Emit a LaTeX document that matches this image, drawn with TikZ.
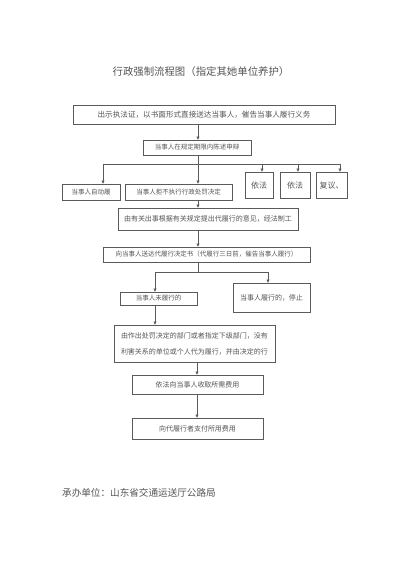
\documentclass[tikz,border=0pt]{standalone}
\usepackage{fontspec}
\newfontfamily\cjk{Noto Sans CJK SC}
\usetikzlibrary{arrows.meta}
\definecolor{ln}{HTML}{5A5A5A}
\definecolor{tx}{HTML}{555555}
\tikzset{
  box/.style={draw=ln, line width=0.55pt, inner sep=0pt, font=\cjk\fontsize{7}{9}\selectfont, text=tx, align=center},
  small/.style={font=\cjk\fontsize{6.5}{8}\selectfont},
  conn/.style={draw=ln, line width=0.55pt},
  arr/.style={conn, -{Triangle[length=3.2pt,width=3pt]}},
}
\begin{document}
\begin{tikzpicture}[x=1pt,y=-1pt]
\useasboundingbox (0,0) rectangle (400,566);
\fill[white] (0,0) rectangle (400,566);
% title
\node[font=\cjk\fontsize{10.4}{12}\selectfont, text=tx] (title) at (201,72) {行政强制流程图（指定其她单位养护）};
% boxes
\node[box, minimum width=262pt, minimum height=19pt, font=\cjk\fontsize{7.6}{9}\selectfont] (b1) at (204,114.5) {出示执法证，以书面形式直接送达当事人，催告当事人履行义务};
\node[box, small, minimum width=108pt, minimum height=15pt] (b2) at (197,147.5) {当事人在规定期限内陈述申辩};
\node[box, small, minimum width=58pt, minimum height=16pt] (bl) at (91,192) {当事人自动履};
\node[box, small, minimum width=107pt, minimum height=16pt] (bm) at (178.5,192) {当事人拒不执行行政处罚决定};
\node[box, minimum width=28pt, minimum height=26pt, font=\cjk\fontsize{8}{9}\selectfont] (y1) at (259,185) {依法};
\node[box, minimum width=30pt, minimum height=26pt, font=\cjk\fontsize{8}{9}\selectfont] (y2) at (295,185) {依法};
\node[box, minimum width=31pt, minimum height=26pt, font=\cjk\fontsize{8}{9}\selectfont] (fy) at (331.5,185) {复议、};
\node[box, minimum width=180pt, minimum height=22pt] (b4) at (208,219) {由有关出事根据有关规定提出代履行的意见，经法制工};
\node[box, small, minimum width=207pt, minimum height=15pt] (b5) at (206.5,254.5) {向当事人送达代履行决定书（代履行三日前，催告当事人履行）};
\node[box, small, minimum width=77pt, minimum height=13pt] (b6l) at (158.5,298.5) {当事人未履行的};
\node[box, minimum width=77pt, minimum height=29pt] (b6r) at (271.5,297.5) {当事人履行的，停止};
\node[box, minimum width=161pt, minimum height=37pt, font=\cjk\fontsize{7}{16}\selectfont] (b7) at (194.5,343.5) {由作出处罚决定的部门或者指定下级部门，没有\\利害关系的单位或个人代为履行，并由决定的行};
\node[box, minimum width=131pt, minimum height=19pt] (b8) at (197.5,384.5) {依法向当事人收取所需费用};
\node[box, minimum width=131pt, minimum height=21pt] (b9) at (197.5,428.5) {向代履行者支付所用费用};
% footer
\node[font=\cjk\fontsize{9.6}{11}\selectfont, text=tx, anchor=west, inner sep=0pt] (foot) at (62,493) {承办单位：山东省交通运送厅公路局};
% connectors
\coordinate (a1) at (198,0);
\draw[arr] (b1.south -| a1) -- (b2.north -| a1);
\coordinate (hl) at (103,164);
\coordinate (hr) at (340,164);
\coordinate (hm) at (198,164);
\coordinate (h3) at (262,164);
\coordinate (h4) at (298,164);
\draw[conn] (b2.south -| hm) -- (hm);
\draw[conn] (hl) -- (hr);
\draw[arr] (hl) -- (hl |- bl.north);
\draw[arr] (hm) -- (hm |- bm.north);
\draw[arr] (h3) -- (h3 |- y1.north);
\draw[arr] (h4) -- (h4 |- y2.north);
\draw[arr] (hr) -- (hr |- fy.north);
\draw[arr] (bm.south -| hm) -- (b4.north -| hm);
\draw[arr] (b4.south -| hm) -- (b5.north -| hm);
\coordinate (j) at (198,272);
\coordinate (jl) at (155,272);
\coordinate (jr) at (268,272);
\draw[conn] (b5.south -| j) -- (j);
\draw[conn] (jl) -- (jr);
\draw[arr] (jl) -- (jl |- b6l.north);
\draw[arr] (jr) -- (jr |- b6r.north);
\draw[arr] (b6l.south -| jl) -- (b7.north -| jl);
\coordinate (k) at (197,0);
\draw[arr] (b7.south -| k) -- (b8.north -| k);
\draw[arr] (b8.south -| k) -- (b9.north -| k);
\end{tikzpicture}
\end{document}
